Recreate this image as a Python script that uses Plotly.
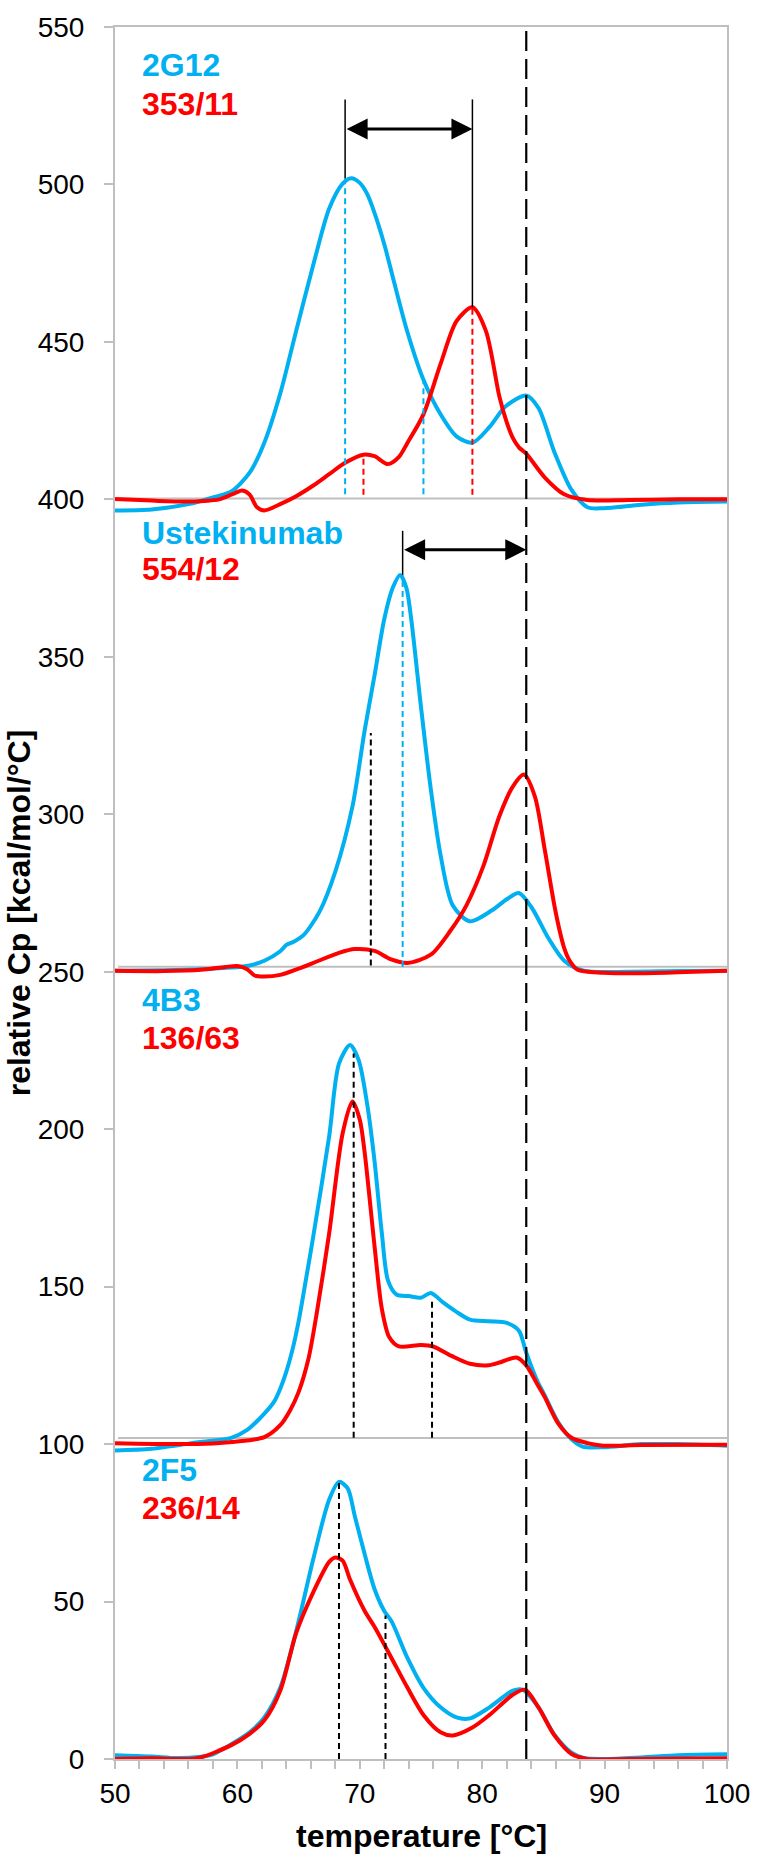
import plotly.graph_objects as go

# ---------------- data ----------------
# Panel 1: 2G12 (blue) vs 353/11 (red), baseline ~400
t_2G12 = [50, 53, 56, 58, 59.5, 61, 62.2, 63.5, 64.8, 66.2, 67.5, 68.6, 69.3, 70.0, 70.6, 71.2, 72, 72.8,
          73.9, 75.2, 76.6, 77.9, 79.2, 80.6, 81.9, 83.6, 84.6, 85.9, 87.3, 88.6, 89.9, 93, 96, 100]
cp_2G12 = [396.5, 396.8, 398.5, 400.6, 402.5, 408.5, 418, 433.6, 453.5, 474.5, 492.4, 500.3, 502, 500.5,
           497, 491, 481, 469, 453, 438, 427, 420, 418, 423, 429.5, 433, 429, 415, 403, 397.5, 397.2, 398.3, 399, 399.3]
t_353_11 = [50, 53, 56, 58.5, 59.8, 60.4, 61.0, 61.6, 62.2, 63.5, 64.8, 66.2, 67.5, 68.8, 70.3, 71.2,
            72.3, 73.2, 73.9, 75.2, 76.6, 77.9, 79.2, 80.3, 81.4, 82.0, 82.5, 83.0, 83.6, 85.1, 86.7, 88.6, 92, 96, 100]
cp_353_11 = [400.1, 399.6, 399.3, 400, 402, 402.8, 401.5, 397.5, 396.5, 398.5, 401, 404.4, 408, 411.6,
             414.2, 413.7, 411.2, 413.5, 418, 427, 443, 456.6, 461, 453.5, 432.7, 424.5, 419.5, 416.5, 414.5,
             407, 401.6, 399.8, 399.8, 400, 400]

# Panel 2: Ustekinumab (blue) vs 554/12 (red), baseline ~251
t_ustek = [50, 54, 57, 59.5, 61, 62.2, 63.5, 64, 64.6, 65.4, 66.7, 68, 69.4, 70.4, 71.2, 72, 72.7,
           73.3, 73.8, 74.2, 75, 75.8, 76.6, 77.6, 79, 80.8, 82, 83, 84.1, 85.4, 86.7, 88.3, 92, 96, 100]
cp_ustek = [250.3, 250.5, 250.8, 251.3, 252, 253.5, 256.5, 258.5, 259.5, 261.6, 269, 281.8, 302.5,
            326.7, 344, 362, 372, 376, 372, 362, 334, 308, 287, 271, 266, 269.5, 273, 275, 270, 260.7,
            253.5, 250.3, 250, 250.2, 250.3]
t_554_12 = [50, 54, 57, 59, 60, 60.8, 61.4, 62.2, 63.5, 65, 66.2, 68.3, 69.6, 71.2, 72.5, 73.9, 75.8,
            77.4, 78.7, 80.1, 81.4, 82.5, 83.4, 84.3, 85.1, 85.9, 86.3, 86.7, 87.1, 87.8, 89.9, 92.6, 96, 100]
cp_554_12 = [250.3, 250.2, 250.6, 251.5, 251.8, 250.8, 248.8, 248.5, 249, 251, 252.8, 256, 257.2,
             256.6, 254, 252.8, 255.4, 263, 271, 283.6, 299.4, 308.8, 312.6, 305.7, 289, 271, 263.5,
             257.5, 253.8, 250.6, 249.7, 249.5, 249.8, 250.3]

# Panel 3: 4B3 (blue) vs 136/63 (red), baseline ~100
t_4B3 = [50, 53, 56.8, 59.5, 60.8, 62.2, 63, 63.5, 64, 64.5, 65, 65.5, 66.2, 67.5, 68.3, 69.2, 69.9,
         70.6, 71.2, 71.8, 72.3, 73, 74, 75, 75.8, 76.8, 77.9, 79, 80.6, 82, 83, 83.6, 84.5, 85.1, 86.2,
         87.3, 88.2, 89.9, 93, 96, 100]
cp_4B3 = [98, 98.5, 100.6, 102, 104.5, 109.7, 113.5, 117.6, 123, 130, 139, 150, 166, 197.8, 220.8,
          226.7, 222, 208, 190, 167, 152, 147.5, 147, 146.5, 148, 145, 142, 139.5, 139, 138.5, 136, 129,
          120, 115.5, 107, 101.5, 99.2, 99, 100, 100, 99.5]
t_136_63 = [50, 55, 58, 60, 62.2, 63.5, 64.3, 65, 65.8, 66.5, 67.5, 68.6, 69.4, 70, 70.4, 71.2, 71.8,
            72.4, 73.2, 75, 76, 77.5, 79, 80.5, 81.5, 82.8, 83.6, 84.5, 85.1, 86.2, 87.3, 88.6, 89.9, 93, 100]
cp_136_63 = [100.3, 100, 100.2, 100.8, 102.2, 106, 110.7, 116.5, 127, 142, 167, 198.7, 208.8, 203,
             192.5, 163, 143, 134, 131, 131.5, 131, 128, 125.5, 125, 126, 127.5, 125, 119, 115, 106.6,
             102, 100.3, 99.5, 99.7, 99.8]

# Panel 4: 2F5 (blue) vs 236/14 (red), baseline 0
t_2F5 = [50, 53, 55, 56.8, 58, 59.5, 61, 62.2, 63.5, 64.8, 66.2, 67.5, 68.3, 69, 69.6, 70.4, 71.2, 72,
         72.6, 73.9, 75.2, 76.6, 77.9, 79, 80.6, 82.5, 83.3, 84.6, 85.9, 87.3, 88.3, 90, 93, 96, 100]
cp_2F5 = [1.2, 0.8, 0.3, 0.6, 1.5, 4.7, 8.5, 13.2, 22.6, 40.6, 63.5, 82.4, 88, 86, 77, 65, 54, 47,
          43.7, 32, 22.6, 16.4, 13.2, 12.9, 16.4, 21.7, 22, 16.4, 7.7, 2, 0.3, 0, 0.5, 1.2, 1.5]
t_236_14 = [50, 53, 56, 57, 59.5, 61, 62.2, 63.5, 64.8, 66.2, 67.5, 68, 68.6, 69.2, 70.4, 71.2, 72.6,
            73.9, 75.2, 76.6, 77.6, 79.2, 80.6, 82.5, 83.5, 84.6, 85.9, 87.3, 88.6, 92, 100]
cp_236_14 = [0, 0.2, 0, 0.5, 4.4, 8, 12.3, 21.7, 40, 53, 62.6, 64, 63, 57, 47, 42, 32, 22.6, 14, 8.5,
             7.5, 10, 14, 20.4, 22, 16.4, 7.5, 1.6, 0, 0, 0.2]

# panel baselines (offsets of the stacked thermograms)
panel_baselines = [400.3, 251.6, 101.9]

# transition-temperature markers
blue_tm_T = [68.8, 75.2, 73.5]
blue_tm_top = [502, 437.4, 376]
blue_tm_base = [401.6, 401.6, 251.5]
red_tm_T = [70.3, 79.2]
red_tm_top = [414.2, 461]
red_tm_base = [401.5, 401.5]
black_tm_T = [70.9, 69.5, 75.9, 68.3, 72.1]
black_tm_top = [325.8, 224, 146.5, 88, 45.6]
black_tm_base = [252, 102, 102, 0, 0]
ref_T = 83.6
ref_span = [0, 549]
leader_T = [68.8, 79.2, 73.5]
leader_from = [502, 461, 376]
leader_to = [527, 527, 390]
shift_arrows = [(68.8, 79.2, 517.6), (73.5, 83.6, 384)]

labels_blue = ["2G12", "Ustekinumab", "4B3", "2F5"]
labels_red = ["353/11", "554/12", "136/63", "236/14"]

x_ticks = [50, 60, 70, 80, 90, 100]
y_ticks = list(range(0, 551, 50))

# ---------------- styling ----------------
BLUE = "#00B0F0"
RED = "#FF0000"
GRAY = "#BFBFBF"
FONT = "Liberation Sans, Arial, sans-serif"

fig = go.Figure()

for b in panel_baselines:
    fig.add_trace(go.Scatter(x=[50.25, 100], y=[b, b], mode="lines",
                             line=dict(color=GRAY, width=2), hoverinfo="skip", showlegend=False))

for tx, cy, col in [(t_2G12, cp_2G12, BLUE), (t_353_11, cp_353_11, RED),
                    (t_ustek, cp_ustek, BLUE), (t_554_12, cp_554_12, RED),
                    (t_4B3, cp_4B3, BLUE), (t_136_63, cp_136_63, RED),
                    (t_2F5, cp_2F5, BLUE), (t_236_14, cp_236_14, RED)]:
    fig.add_trace(go.Scatter(x=tx, y=cy, mode="lines",
                             line=dict(color=col, width=4, shape="spline", smoothing=0.8),
                             hoverinfo="skip", showlegend=False))


def vlines(Ts, tops, bases, color, width, dash):
    xs, ys = [], []
    for t, a, b in zip(Ts, tops, bases):
        xs += [t, t, None]
        ys += [b, a, None]
    fig.add_trace(go.Scatter(x=xs, y=ys, mode="lines",
                             line=dict(color=color, width=width, dash=dash),
                             hoverinfo="skip", showlegend=False))


vlines(blue_tm_T, blue_tm_top, blue_tm_base, BLUE, 2, "6px,4px")
vlines(red_tm_T, red_tm_top, red_tm_base, RED, 2, "6px,4px")
vlines(black_tm_T, black_tm_top, black_tm_base, "black", 2, "6px,4px")
vlines(leader_T, leader_to, leader_from, "black", 1.5, "solid")
vlines([ref_T], [ref_span[1]], [ref_span[0]], "black", 2.2, "20px,8px")

annotations = []
for x0, x1, yv in shift_arrows:
    annotations.append(dict(x=x1, y=yv, ax=x0, ay=yv, xref="x", yref="y", axref="x", ayref="y",
                            text="", showarrow=True, arrowhead=2, arrowside="end+start",
                            arrowwidth=3, arrowsize=1.4, arrowcolor="black",
                            standoff=0, startstandoff=0))

label_pos_blue = [537.9, 389.3, 240.9, 91.8]
label_pos_red = [525.5, 377.8, 228.9, 79.6]
for txt, yv in zip(labels_blue, label_pos_blue):
    annotations.append(dict(x=52.05, y=yv, xref="x", yref="y", text="<b>%s</b>" % txt,
                            showarrow=False, xanchor="left", yanchor="middle",
                            font=dict(family=FONT, size=32, color=BLUE)))
for txt, yv in zip(labels_red, label_pos_red):
    annotations.append(dict(x=52.05, y=yv, xref="x", yref="y", text="<b>%s</b>" % txt,
                            showarrow=False, xanchor="left", yanchor="middle",
                            font=dict(family=FONT, size=32, color=RED)))

annotations.append(dict(x=0.5, y=-0.0443, xref="paper", yref="paper",
                        text="<b>temperature [°C]</b>", showarrow=False,
                        xanchor="center", yanchor="middle",
                        font=dict(family=FONT, size=32, color="black")))
annotations.append(dict(x=-0.157, y=0.4888, xref="paper", yref="paper",
                        text="<b>relative Cp [kcal/mol/°C]</b>", showarrow=False, textangle=-90,
                        xanchor="center", yanchor="middle",
                        font=dict(family=FONT, size=32, color="black")))

fig.update_layout(
    width=762, height=1857,
    margin=dict(l=115, r=23, t=12, b=98),
    paper_bgcolor="white", plot_bgcolor="white",
    showlegend=False,
    font=dict(family=FONT, color="black"),
    annotations=annotations,
)
fig.update_xaxes(range=[50, 100], tickvals=x_ticks, ticks="outside", ticklen=8, tickwidth=2,
                 tickcolor=GRAY, showline=True, linecolor=GRAY, linewidth=2, mirror=True,
                 showgrid=False, zeroline=False, tickfont=dict(family=FONT, size=28, color="black"),
                 ticklabelstandoff=0, ticklabeloverflow="allow",
                 minor=dict(dtick=2, ticks="outside", ticklen=8, tickwidth=2, tickcolor=GRAY,
                            showgrid=False))
fig.update_yaxes(range=[0, 550], tickvals=y_ticks, ticks="outside", ticklen=9, tickwidth=2,
                 tickcolor=GRAY, showline=True, linecolor=GRAY, linewidth=2, mirror=True,
                 showgrid=False, zeroline=False, tickfont=dict(family=FONT, size=28, color="black"),
                 ticklabelstandoff=14, ticklabeloverflow="allow")

fig.write_html("out.html", config={"displayModeBar": False},
               post_script="document.body.style.margin='0px';document.body.style.padding='0px';")
